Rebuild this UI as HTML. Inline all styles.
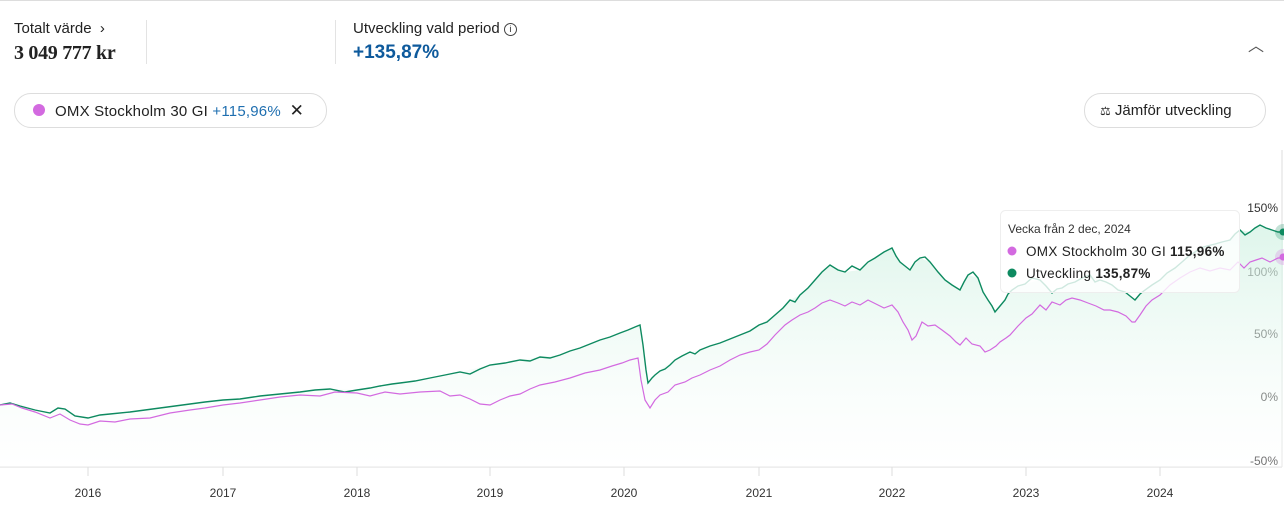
<!DOCTYPE html>
<html><head><meta charset="utf-8"><style>
body{margin:0;width:1284px;height:506px;background:#fff;font-family:"Liberation Sans",sans-serif;color:#222;position:relative;overflow:hidden}
.a{position:absolute;white-space:nowrap}
</style></head><body>
<div class="a" style="left:0;top:0;width:1284px;height:1px;background:#ddd"></div>
<div class="a" style="left:14px;top:20px;font-size:15px;color:#222">Totalt värde &nbsp;›</div>
<div class="a" style="left:14px;top:42px;font-size:20px;font-weight:bold;font-family:'Liberation Serif',serif;letter-spacing:-0.3px">3 049 777 kr</div>
<div class="a" style="left:146px;top:20px;width:1px;height:44px;background:#e3e3e3"></div>
<div class="a" style="left:335px;top:20px;width:1px;height:44px;background:#e3e3e3"></div>
<div class="a" style="left:353px;top:20px;font-size:15px">Utveckling vald period <span style="display:inline-block;width:11px;height:11px;border:1px solid #444;border-radius:50%;font-size:9px;text-align:center;line-height:11px;vertical-align:1px">i</span></div>
<div class="a" style="left:353px;top:42px;font-size:19px;font-weight:bold;color:#0e5a9c">+135,87%</div>
<div class="a" style="left:1248px;top:32px;font-size:16px;color:#555">︿</div>
<div class="a" style="left:14px;top:93px;width:311px;height:33px;border:1px solid #ddd;border-radius:17px"></div>
<div class="a" style="left:33px;top:104px;width:12px;height:12px;border-radius:50%;background:#d36ae0"></div>
<div class="a" style="left:55px;top:101px;font-size:15px;letter-spacing:0.2px">OMX Stockholm 30 GI <span style="color:#1f6fb0">+115,96%</span> &nbsp;<span style="font-size:17px">✕</span></div>
<div class="a" style="left:1084px;top:93px;width:180px;height:33px;border:1px solid #ddd;border-radius:17px"></div>
<div class="a" style="left:1100px;top:102px;font-size:15px"><span style="font-size:12px">⚖</span> Jämför utveckling</div>
<svg class="a" style="left:0;top:0" width="1284" height="506">
<defs><linearGradient id="g" x1="0" y1="0" x2="0" y2="1"><stop offset="0" stop-color="#d3f2e4" stop-opacity="0.75"/><stop offset="1" stop-color="#fff" stop-opacity="0.3"/></linearGradient></defs>
<line x1="1282" y1="150" x2="1282" y2="467" stroke="#ddd"/>
<line x1="0" y1="467" x2="1282" y2="467" stroke="#ddd"/>
<g stroke="#ddd"><line x1="88" y1="467" x2="88" y2="476"/><line x1="223" y1="467" x2="223" y2="476"/><line x1="357" y1="467" x2="357" y2="476"/><line x1="490" y1="467" x2="490" y2="476"/><line x1="624" y1="467" x2="624" y2="476"/><line x1="759" y1="467" x2="759" y2="476"/><line x1="892" y1="467" x2="892" y2="476"/><line x1="1026" y1="467" x2="1026" y2="476"/><line x1="1160" y1="467" x2="1160" y2="476"/></g>
<g font-size="12" fill="#333" text-anchor="middle"><text x="88" y="497">2016</text><text x="223" y="497">2017</text><text x="357" y="497">2018</text><text x="490" y="497">2019</text><text x="624" y="497">2020</text><text x="759" y="497">2021</text><text x="892" y="497">2022</text><text x="1026" y="497">2023</text><text x="1160" y="497">2024</text></g>
<g font-size="12" fill="#333" text-anchor="end"><text x="1278" y="212">150%</text><text x="1278" y="276">100%</text><text x="1278" y="338">50%</text><text x="1278" y="401">0%</text><text x="1278" y="465">-50%</text></g>
<path d="M0,405 L20,403 35,410 50,413 65,409 75,416 88,418 110,414 130,412 160,408 190,404 223,400 260,396 300,392 330,389 357,390 380,386 400,383 430,378 460,372 490,365 520,360 540,357 560,355 580,348 600,340 620,333 635,327 640,325 645,360 648,383 655,375 662,368 675,360 690,352 700,350 720,343 740,335 759,325 775,315 790,300 800,295 815,280 830,265 845,272 860,270 875,258 892,248 900,262 910,270 920,258 930,262 945,280 960,290 968,275 978,278 988,300 995,312 1005,300 1012,290 1025,284 1040,280 1052,293 1062,288 1075,282 1090,275 1100,280 1112,285 1125,292 1135,300 1145,290 1160,280 1175,268 1190,255 1200,248 1215,244 1230,240 1240,230 1250,232 1260,225 1272,230 1283,232 L1283,467 L0,467Z" fill="url(#g)"/>
<polyline fill="none" stroke="#0e8a60" stroke-width="1.4" points="0,405 10,403 20,406 35,410 50,413 58,408 65,409 75,416 88,418 100,415 110,414 130,412 145,410 160,408 175,406 190,404 205,402 223,400 240,399 260,396 280,394 300,392 315,390 330,389 345,392 357,390 370,388 380,386 392,384 400,383 415,381 430,378 445,375 460,372 470,374 480,369 490,365 505,363 520,360 530,361 540,357 550,358 560,355 570,351 580,348 590,344 600,340 610,337 620,333 628,330 635,327 640,325 643,345 646,370 648,383 652,378 655,375 660,371 665,369 670,365 675,360 682,356 690,352 695,354 700,350 710,346 720,343 730,339 740,335 750,331 759,325 767,322 775,315 783,308 790,300 795,302 800,295 808,288 815,280 822,272 830,265 838,270 845,272 852,266 860,270 868,262 875,258 884,252 892,248 896,256 900,262 905,266 910,270 915,262 920,258 925,257 930,262 938,272 945,280 952,285 960,290 964,282 968,275 973,272 978,278 983,292 988,300 992,306 995,312 1000,306 1005,300 1008,294 1012,290 1018,286 1025,284 1032,278 1040,280 1046,286 1052,293 1057,289 1062,288 1068,284 1075,282 1082,278 1090,275 1095,282 1100,280 1106,282 1112,285 1118,290 1125,292 1130,296 1135,300 1140,294 1145,290 1152,285 1160,280 1167,273 1175,268 1182,262 1190,255 1195,252 1200,248 1207,246 1215,244 1222,242 1230,240 1235,234 1240,230 1245,235 1250,232 1255,228 1260,225 1266,228 1272,230 1278,232 1283,232"/>
<polyline fill="none" stroke="#d36ae0" stroke-width="1.2" points="0,405 12,404 22,408 35,412 50,418 60,414 70,420 80,424 88,425 100,421 115,422 130,419 150,418 170,413 190,410 205,408 223,405 240,403 260,400 280,397 300,395 320,396 335,392 357,393 370,396 385,392 400,394 420,392 440,391 450,396 460,395 470,399 480,404 490,405 500,400 510,396 520,394 530,389 540,385 555,382 570,378 585,373 600,370 612,366 622,363 630,360 638,358 641,380 645,400 650,408 655,400 660,395 668,392 675,385 685,382 692,378 700,375 710,370 720,366 730,360 740,355 750,352 759,350 767,344 775,335 785,325 792,320 800,315 808,312 815,308 822,303 830,300 838,303 845,306 852,302 860,305 868,300 876,304 884,308 892,305 898,312 903,322 908,330 912,340 916,336 922,322 928,326 935,325 942,330 950,336 956,342 960,345 966,338 972,344 980,346 985,352 990,350 996,346 1000,342 1006,338 1010,335 1018,326 1026,318 1032,314 1040,305 1046,310 1052,302 1060,305 1066,300 1072,298 1080,300 1088,303 1096,306 1104,310 1110,310 1118,312 1126,316 1132,322 1135,322 1140,315 1146,306 1152,300 1160,295 1170,285 1180,278 1190,272 1200,268 1210,271 1220,268 1230,270 1238,262 1244,268 1250,262 1256,260 1262,258 1270,262 1278,258 1283,258"/>
<circle cx="1283" cy="232" r="8" fill="#0e8a60" opacity="0.25"/><circle cx="1283" cy="232" r="3.5" fill="#0e8a60"/>
<circle cx="1283" cy="257" r="8" fill="#d36ae0" opacity="0.25"/><circle cx="1283" cy="257" r="3.5" fill="#d36ae0"/>
<rect x="1000.5" y="210.5" width="239" height="82" rx="5" fill="#fff" fill-opacity="0.8" stroke="#eee"/>
<text x="1008" y="233" font-size="12" fill="#333">Vecka från 2 dec, 2024</text>
<circle cx="1012" cy="251" r="4.5" fill="#d36ae0"/>
<text x="1026" y="256" font-size="13.5" fill="#222" letter-spacing="0.3">OMX Stockholm 30 GI <tspan font-weight="bold">115,96%</tspan></text>
<circle cx="1012" cy="273" r="4.5" fill="#0e8a60"/>
<text x="1026" y="278" font-size="13.5" fill="#222" letter-spacing="0.3">Utveckling <tspan font-weight="bold">135,87%</tspan></text>
</svg>
</body></html>
